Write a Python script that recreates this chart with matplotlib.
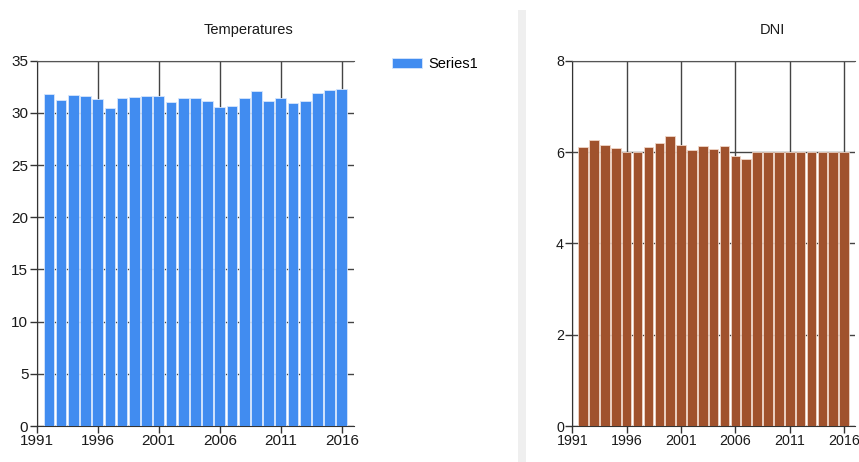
import matplotlib
matplotlib.use("Agg")
import matplotlib.pyplot as plt
from matplotlib.patches import Rectangle

years = list(range(1992, 2017))
temperatures = [31.84, 31.19, 31.74, 31.61, 31.29, 30.45, 31.39, 31.52, 31.61, 31.61,
                31.06, 31.39, 31.39, 31.16, 30.55, 30.65, 31.39, 32.13, 31.16, 31.39,
                30.97, 31.16, 31.94, 32.23, 32.32]
dni = [6.10, 6.26, 6.15, 6.08, 5.99, 6.00, 6.10, 6.20, 6.34, 6.15,
       6.04, 6.13, 6.06, 6.13, 5.91, 5.85, 6.0, 6.0, 6.0, 6.0,
       6.0, 6.0, 6.0, 6.0, 6.0]
xticks = [1991, 1996, 2001, 2006, 2011, 2016]
temp_yticks = [0, 5, 10, 15, 20, 25, 30, 35]
dni_yticks = [0, 2, 4, 6, 8]

plt.rcParams['font.family'] = ['Liberation Sans', 'DejaVu Sans']

W, H = 859, 462
fig = plt.figure(figsize=(W / 100, H / 100), dpi=100)

# separator band
fig.patches.append(Rectangle((517.7 / W, 0), 8.3 / W, 1 - 10 / H,
                             transform=fig.transFigure, facecolor='#efefef',
                             edgecolor='none', zorder=0))

def fx(px):
    return px / W

def fy(py):
    return 1 - py / H

ax1 = fig.add_axes([fx(36.7), fy(426), fx(354) - fx(36.7), fy(60.7) - fy(426)])
ax2 = fig.add_axes([fx(572.3), fy(426), fx(855) - fx(572.3), fy(60.7) - fy(426)])

def style(ax, yticks, ymax, lsize):
    ax.set_xlim(1991, 2017)
    ax.set_ylim(0, ymax)
    ax.set_xticks(xticks)
    ax.set_yticks(yticks)
    ax.set_axisbelow(True)
    ax.grid(True, color='#444444', linewidth=1.0)
    ax.spines['right'].set_visible(False)
    ax.spines['top'].set_color('#555555')
    ax.spines['left'].set_color('#333333')
    ax.spines['bottom'].set_color('#333333')
    ax.tick_params(axis='both', direction='out', length=5, width=1,
                   color='#333333', labelsize=lsize, labelcolor='#1a1a1a', pad=1)
    ax.patch.set_alpha(0)

style(ax1, temp_yticks, 35, 11)
style(ax2, dni_yticks, 8, 10.3)

ax1.bar(years, temperatures, width=0.88, color='#418cf0', edgecolor='#d6e6fc',
        linewidth=0.6, label='Series1', zorder=3)
ax2.bar(years, dni, width=0.88, color='#a0522d', edgecolor='#f0d6c8',
        linewidth=0.6, zorder=3)

fig.text(fx(248), fy(30), 'Temperatures', ha='center', va='center', fontsize=10.5, color='#1a1a1a')
fig.text(fx(772), fy(30), 'DNI', ha='center', va='center', fontsize=10.5, color='#1a1a1a')

ax1.legend(loc='upper left', bbox_to_anchor=(fx(388), fy(53)), bbox_transform=fig.transFigure,
           frameon=False, fontsize=10.5, handlelength=2.0, handleheight=0.7,
           handletextpad=0.5, borderaxespad=0, borderpad=0.3)

fig.savefig('out.png', dpi=100)
